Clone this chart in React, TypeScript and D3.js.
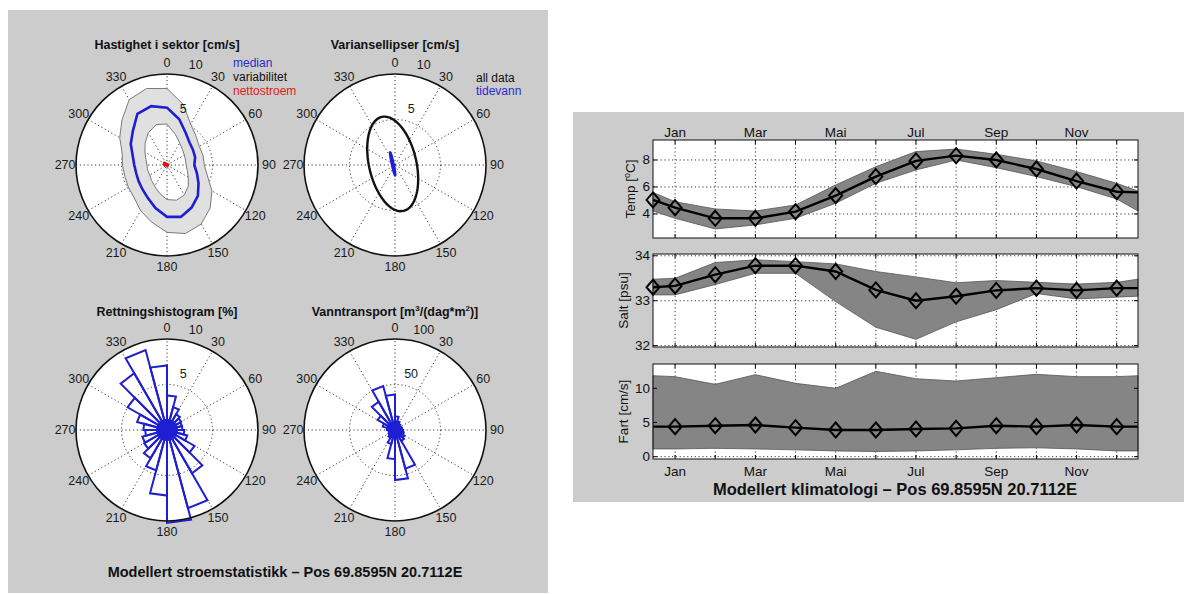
import React from "react";
import * as d3 from "d3";

const W = 1184;
const H = 594;
const FONT = "'Liberation Sans', Arial, Helvetica, sans-serif";
const BLUE = "#1e1ed2";

// ---------------- polar plots (left panel) ----------------
const compassLabels = [0, 30, 60, 90, 120, 150, 180, 210, 240, 270, 300, 330];
const sectorDeg = [0, 15, 30, 45, 60, 75, 90, 105, 120, 135, 150, 165, 180, 195, 210, 225, 240, 255, 270, 285, 300, 315, 330, 345];

// Hastighet i sektor [cm/s]
const speedOuter = [8.4, 6.9, 5.2, 4.5, 4.1, 4.1, 4.1, 4.6, 5.7, 6.7, 7.5, 7.8, 7.4, 6.5, 5.8, 5.1, 4.9, 4.8, 4.9, 5.1, 6.0, 7.0, 8.3, 8.7];
const speedMedian = [6.3, 5.2, 4.1, 3.5, 3.3, 3.2, 3.0, 3.4, 4.0, 4.8, 5.4, 5.9, 5.7, 4.9, 4.2, 3.8, 3.6, 3.5, 3.6, 3.9, 4.6, 5.3, 6.5, 6.7];
const speedInner = [4.5, 3.5, 2.8, 2.4, 2.2, 2.1, 2.1, 2.3, 2.7, 3.3, 3.8, 4.0, 3.8, 3.2, 2.7, 2.4, 2.2, 2.2, 2.2, 2.4, 2.8, 3.4, 4.1, 4.6];
const netDir = 295; // deg
const netSpeed = 0.28; // cm/s

// Variansellipser [cm/s]
const allDataEllipse = { major: 5.3, minor: 2.6, dir: 347 };
const tideEllipse = { major: 1.3, minor: 0.1, dir: 348 };

// Rettningshistogram [%] (15 degree bins starting at binStart)
const binStart = [0, 15, 30, 45, 60, 75, 90, 105, 120, 135, 150, 165, 180, 195, 210, 225, 240, 255, 270, 285, 300, 315, 330, 345];
const histPct = [3.8, 2.6, 2.0, 1.8, 1.7, 1.7, 1.9, 2.3, 3.5, 5.5, 8.9, 10.2, 7.2, 4.6, 3.6, 2.9, 2.8, 2.4, 2.6, 3.4, 5.0, 7.2, 9.1, 7.1];
// Vanntransport [m3/(dag*m2)]
const transport = [15, 10, 8, 7, 7, 8, 9, 10, 12, 14, 44, 55, 32, 16, 10, 8, 7, 7, 9, 14, 22, 36, 50, 39];

// ---------------- climatology (right panel) ----------------
const labelledMonths = ["Jan", "Mar", "Mai", "Jul", "Sep", "Nov"];
const labelledMonthNo = [1, 3, 5, 7, 9, 11];
const gridMonthNo = [1, 2, 3, 4, 5, 6, 7, 8, 9, 10, 11, 12];
const sampleMonth = [0.45, 1, 2, 3, 4, 5, 6, 7, 8, 9, 10, 11, 12, 12.53];

const tempMedian = [5.04, 4.47, 3.68, 3.68, 4.17, 5.36, 6.77, 7.93, 8.32, 8.0, 7.33, 6.44, 5.65, 5.6];
const tempHigh = [5.6, 4.91, 4.37, 4.22, 4.67, 6.15, 7.5, 8.62, 8.81, 8.42, 7.93, 7.14, 6.27, 5.7];
const tempLow = [4.22, 3.68, 2.89, 3.19, 3.68, 4.79, 6.27, 7.26, 8.0, 7.43, 6.77, 6.02, 5.11, 4.22];

const saltMedian = [33.3, 33.33, 33.58, 33.78, 33.78, 33.65, 33.24, 33.0, 33.1, 33.23, 33.28, 33.23, 33.28, 33.28];
const saltHigh = [33.48, 33.5, 33.85, 33.91, 33.87, 33.82, 33.65, 33.53, 33.4, 33.45, 33.41, 33.37, 33.41, 33.48];
const saltLow = [33.13, 33.13, 33.36, 33.61, 33.61, 32.98, 32.41, 32.14, 32.53, 32.8, 33.16, 33.04, 33.08, 33.1];

const fartMedian = [4.39, 4.39, 4.53, 4.63, 4.24, 3.9, 3.9, 4.05, 4.14, 4.53, 4.39, 4.63, 4.39, 4.39];
const fartHigh = [11.84, 11.7, 10.58, 11.99, 10.73, 10.0, 12.48, 11.4, 11.06, 11.55, 12.04, 11.7, 11.7, 11.84];
const fartLow = [1.13, 1.13, 1.22, 1.13, 1.0, 0.84, 0.75, 0.84, 1.0, 1.22, 1.3, 1.13, 0.84, 0.84];

const rad = (deg: number) => (deg * Math.PI) / 180;
const pxy = (r: number, deg: number): [number, number] => [r * Math.sin(rad(deg)), -r * Math.cos(rad(deg))];

type FrameProps = {
  cx: number;
  cy: number;
  R: number;
  rMax: number;
  ringValues: number[];
  ringLabels: string[];
  title: React.ReactNode;
  titleY: number;
  children?: React.ReactNode;
};

function PolarFrame({ cx, cy, R, rMax, ringValues, ringLabels, title, titleY, children }: FrameProps) {
  const r = d3.scaleLinear().domain([0, rMax]).range([0, R]);
  return (
    <g>
      <text x={cx} y={titleY} textAnchor="middle" fontSize={12.5} fontWeight="bold" fill="#111">
        {title}
      </text>
      <g transform={`translate(${cx},${cy})`}>
        <circle r={R} fill="#fff" />
        {[0, 30, 60, 90, 120, 150].map((a) => {
          const [x1, y1] = pxy(R, a);
          return (
            <line key={a} x1={-x1} y1={-y1} x2={x1} y2={y1} stroke="#222" strokeWidth={0.9} strokeDasharray="1.2,2.6" />
          );
        })}
        {ringValues.slice(0, -1).map((v) => (
          <circle key={v} r={r(v)} fill="none" stroke="#222" strokeWidth={0.9} strokeDasharray="1.2,2.6" />
        ))}
        {children}
        <circle r={R} fill="none" stroke="#111" strokeWidth={1.6} />
        {compassLabels.map((a) => {
          const [x, y] = pxy(R * 1.12, a);
          return (
            <text key={a} x={x} y={y} textAnchor="middle" dominantBaseline="central" fontSize={12.5} fill="#1a1a1a">
              {a}
            </text>
          );
        })}
        {ringValues.map((v, i) => {
          const [x, y] = pxy(r(v) + 13, 16);
          return (
            <text key={v} x={x} y={y} textAnchor="middle" dominantBaseline="central" fontSize={12.5} fill="#1a1a1a">
              {ringLabels[i]}
            </text>
          );
        })}
      </g>
    </g>
  );
}

function radialPath(values: number[], r: d3.ScaleLinear<number, number>) {
  const gen = d3
    .lineRadial<number>()
    .angle((_, i) => rad(sectorDeg[i]))
    .radius((d) => r(d))
    .curve(d3.curveLinearClosed);
  return gen(values) || "";
}

function rosePaths(values: number[], r: d3.ScaleLinear<number, number>) {
  return values.map((v, i) => {
    const [x1, y1] = pxy(r(v), binStart[i]);
    const [x2, y2] = pxy(r(v), binStart[i] + 15);
    const p = d3.path();
    p.moveTo(0, 0);
    p.lineTo(x1, y1);
    p.lineTo(x2, y2);
    p.closePath();
    return p.toString();
  });
}

function ellipsePath(major: number, minor: number, dir: number, r: d3.ScaleLinear<number, number>, c: [number, number]) {
  const u: [number, number] = [Math.sin(rad(dir)), -Math.cos(rad(dir))];
  const p: [number, number] = [Math.cos(rad(dir)), Math.sin(rad(dir))];
  const pts = d3.range(0, 360, 4).map((t) => {
    const a = r(major) * Math.cos(rad(t));
    const b = r(minor) * Math.sin(rad(t));
    return [c[0] + a * u[0] + b * p[0], c[1] + a * u[1] + b * p[1]] as [number, number];
  });
  return d3.line().curve(d3.curveLinearClosed)(pts) || "";
}

type PanelProps = {
  top: number;
  bottom: number;
  domain: [number, number];
  ticks: number[];
  label: React.ReactNode;
  labelX: number;
  median: number[];
  low: number[];
  high: number[];
  markerFrom: number;
  topLabels?: boolean;
  bottomLabels?: boolean;
};

const xScale = d3.scaleLinear().domain([0.45, 12.53]).range([653, 1138]);

function Panel({ top, bottom, domain, ticks, label, labelX, median, low, high, markerFrom, topLabels, bottomLabels }: PanelProps) {
  const y = d3.scaleLinear().domain(domain).range([bottom, top]);
  const [x0, x1] = xScale.range();
  const area = d3
    .area<number>()
    .x((_, i) => xScale(sampleMonth[i]))
    .y0((_, i) => y(low[i]))
    .y1((d) => y(d));
  const line = d3
    .line<number>()
    .x((_, i) => xScale(sampleMonth[i]))
    .y((d) => y(d));
  const dash = "1.2,2.6";
  return (
    <g>
      <rect x={x0} y={top} width={x1 - x0} height={bottom - top} fill="#fff" />
      {gridMonthNo.map((m) => (
        <line key={m} x1={xScale(m)} x2={xScale(m)} y1={top} y2={bottom} stroke="#222" strokeWidth={0.9} strokeDasharray={dash} />
      ))}
      {ticks.map((t) => (
        <line key={t} x1={x0} x2={x1} y1={y(t)} y2={y(t)} stroke="#222" strokeWidth={0.9} strokeDasharray={dash} />
      ))}
      <path d={area(high) || ""} fill="#858585" stroke="#555" strokeWidth={0.8} />
      <path d={line(median) || ""} fill="none" stroke="#000" strokeWidth={2.4} />
      {median.map((v, i) =>
        i >= markerFrom && i <= 12 ? (
          <path
            key={i}
            transform={`translate(${xScale(sampleMonth[i])},${y(v)})`}
            d="M0,-7.5L6.5,0L0,7.5L-6.5,0Z"
            fill="none"
            stroke="#000"
            strokeWidth={2}
          />
        ) : null
      )}
      {gridMonthNo.map((m) => (
        <g key={m}>
          <line x1={xScale(m)} x2={xScale(m)} y1={top} y2={top + 4} stroke="#000" strokeWidth={1} />
          <line x1={xScale(m)} x2={xScale(m)} y1={bottom} y2={bottom - 4} stroke="#000" strokeWidth={1} />
        </g>
      ))}
      {ticks.map((t) => (
        <g key={t}>
          <line x1={x0} x2={x0 + 4} y1={y(t)} y2={y(t)} stroke="#000" strokeWidth={1} />
          <line x1={x1} x2={x1 - 4} y1={y(t)} y2={y(t)} stroke="#000" strokeWidth={1} />
          <text x={650} y={y(t)} textAnchor="end" dominantBaseline="central" fontSize={13.5} fill="#111">
            {t}
          </text>
        </g>
      ))}
      <rect x={x0} y={top} width={x1 - x0} height={bottom - top} fill="none" stroke="#111" strokeWidth={1} />
      {topLabels &&
        labelledMonths.map((m, i) => (
          <text key={m} x={xScale(labelledMonthNo[i])} y={top - 3} textAnchor="middle" fontSize={13.5} fill="#111">
            {m}
          </text>
        ))}
      {bottomLabels &&
        labelledMonths.map((m, i) => (
          <text key={m} x={xScale(labelledMonthNo[i])} y={bottom + 17} textAnchor="middle" fontSize={13.5} fill="#111">
            {m}
          </text>
        ))}
      <text
        transform={`translate(${labelX},${(top + bottom) / 2}) rotate(-90)`}
        textAnchor="middle"
        fontSize={13.5}
        fill="#111"
      >
        {label}
      </text>
    </g>
  );
}

export default function App() {
  const R = 91;
  const r10 = d3.scaleLinear().domain([0, 10]).range([0, R]);
  const r100 = d3.scaleLinear().domain([0, 100]).range([0, R]);
  const netXY = pxy(r10(netSpeed), netDir);
  const bandPath = radialPath(speedOuter, r10) + radialPath(speedInner, r10);

  return (
    <svg
      width={W}
      height={H}
      style={{ position: "absolute", left: 0, top: 0, background: "#fff" }}
      fontFamily={FONT}
    >
      <rect x={0} y={0} width={W} height={H} fill="#fff" />
      <rect x={8} y={10} width={540} height={583} fill="#cccccc" />
      <rect x={573} y={112} width={611} height={390} fill="#cccccc" />

      {/* Hastighet i sektor */}
      <PolarFrame cx={167} cy={165} R={R} rMax={10} ringValues={[5, 10]} ringLabels={["5", "10"]} title="Hastighet i sektor [cm/s]" titleY={49}>
        <path d={bandPath} fill="#e0e0e0" fillRule="evenodd" stroke="#7a7a7a" strokeWidth={1} />
        <path d={radialPath(speedMedian, r10)} fill="none" stroke={BLUE} strokeWidth={2.6} />
        <line x1={0} y1={0} x2={netXY[0]} y2={netXY[1]} stroke="#e01010" strokeWidth={4} strokeLinecap="square" />
      </PolarFrame>
      <text x={233} y={67} fontSize={12} fill="#2b2bd0">median</text>
      <text x={233} y={81} fontSize={12} fill="#111">variabilitet</text>
      <text x={233} y={95} fontSize={12} fill="#e02020">nettostroem</text>

      {/* Variansellipser */}
      <PolarFrame cx={395} cy={165} R={R} rMax={10} ringValues={[5, 10]} ringLabels={["5", "10"]} title="Variansellipser [cm/s]" titleY={49}>
        <path d={ellipsePath(allDataEllipse.major, allDataEllipse.minor, allDataEllipse.dir, r10, netXY)} fill="none" stroke="#111" strokeWidth={2.4} />
        <path d={ellipsePath(tideEllipse.major, tideEllipse.minor, tideEllipse.dir, r10, netXY)} fill="none" stroke={BLUE} strokeWidth={2.4} />
      </PolarFrame>
      <text x={476} y={82} fontSize={12} fill="#111">all data</text>
      <text x={476} y={95} fontSize={12} fill="#2b2bd0">tidevann</text>

      {/* Rettningshistogram */}
      <PolarFrame cx={167} cy={430} R={R} rMax={10} ringValues={[5, 10]} ringLabels={["5", "10"]} title="Rettningshistogram [%]" titleY={316}>
        {rosePaths(histPct, r10).map((d, i) => (
          <path key={i} d={d} fill="none" stroke={BLUE} strokeWidth={2} strokeLinejoin="miter" />
        ))}
        <circle r={11} fill={BLUE} />
      </PolarFrame>

      {/* Vanntransport */}
      <PolarFrame
        cx={395}
        cy={430}
        R={R}
        rMax={100}
        ringValues={[50, 100]}
        ringLabels={["50", "100"]}
        title={
          <>
            Vanntransport [m
            <tspan fontSize={8} dy={-5}>3</tspan>
            <tspan dy={5}>/(dag*m</tspan>
            <tspan fontSize={8} dy={-5}>2</tspan>
            <tspan dy={5}>)]</tspan>
          </>
        }
        titleY={316}
      >
        {rosePaths(transport, r100).map((d, i) => (
          <path key={i} d={d} fill="none" stroke={BLUE} strokeWidth={2} />
        ))}
        <circle r={7} fill={BLUE} />
      </PolarFrame>

      <text x={285} y={577} textAnchor="middle" fontSize={14.5} fontWeight="bold" fill="#111">
        Modellert stroemstatistikk – Pos 69.8595N 20.7112E
      </text>

      {/* Right panel */}
      <Panel
        top={140}
        bottom={238}
        domain={[2.22, 9.48]}
        ticks={[4, 6, 8]}
        label={
          <>
            Temp [<tspan fontSize={9} dy={-5}>o</tspan>
            <tspan dy={5}>C]</tspan>
          </>
        }
        labelX={635}
        median={tempMedian}
        low={tempLow}
        high={tempHigh}
        markerFrom={0}
        topLabels
      />
      <Panel
        top={254}
        bottom={347}
        domain={[31.97, 34.04]}
        ticks={[32, 33, 34]}
        label="Salt [psu]"
        labelX={628}
        median={saltMedian}
        low={saltLow}
        high={saltHigh}
        markerFrom={0}
      />
      <Panel
        top={364}
        bottom={459}
        domain={[-0.34, 13.55]}
        ticks={[0, 5, 10]}
        label="Fart [cm/s]"
        labelX={628}
        median={fartMedian}
        low={fartLow}
        high={fartHigh}
        markerFrom={1}
        bottomLabels
      />
      <text x={895} y={495} textAnchor="middle" fontSize={16.5} fontWeight="bold" fill="#111">
        Modellert klimatologi – Pos 69.8595N 20.7112E
      </text>
    </svg>
  );
}
